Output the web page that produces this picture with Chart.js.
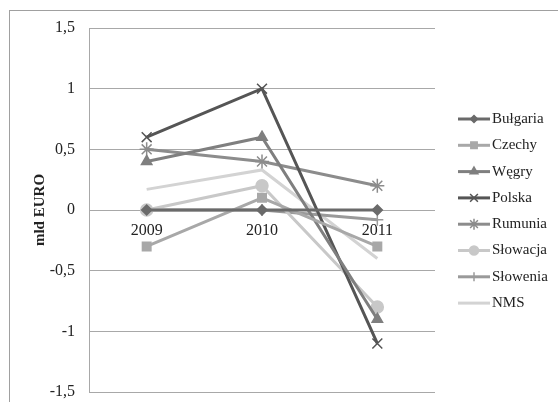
<!DOCTYPE html>
<html>
<head>
<meta charset="utf-8">
<script src="https://cdn.jsdelivr.net/npm/chart.js@4"></script>
<style>
  html, body { margin: 0; padding: 0; background: #fff; }
  #wrap { width: 558px; height: 402px; }
</style>
</head>
<body>
<div id="wrap"><canvas id="wykres" width="558" height="402"></canvas></div>
<script>
const lata = ['2009', '2010', '2011'];
const bulgaria = [0, 0, 0];
const czechy = [-0.3, 0.1, -0.3];
const wegry = [0.4, 0.6, -0.9];
const polska = [0.6, 1.0, -1.1];
const rumunia = [0.5, 0.4, 0.2];
const slowacja = [0, 0.2, -0.8];
const slowenia = [0, 0, -0.08];
const nms = [0.17, 0.33, -0.4];

const czcionka = '"Liberation Serif", "Times New Roman", serif';

const serie = [
  { label: 'Bułgaria', data: bulgaria, kolor: '#6a6a6a', punkt: 'rectRot', r: 5 },
  { label: 'Czechy', data: czechy, kolor: '#a8a8a8', punkt: 'rect', r: 6 },
  { label: 'Węgry', data: wegry, kolor: '#7f7f7f', punkt: 'triangle', r: 6 },
  { label: 'Polska', data: polska, kolor: '#555555', punkt: 'crossRot', r: 7 },
  { label: 'Rumunia', data: rumunia, kolor: '#8c8c8c', punkt: 'star', r: 7 },
  { label: 'Słowacja', data: slowacja, kolor: '#c8c8c8', punkt: 'circle', r: 6 },
  { label: 'Słowenia', data: slowenia, kolor: '#9a9a9a', punkt: 'cross', r: 6 },
  { label: 'NMS', data: nms, kolor: '#d3d3d3', punkt: false, r: 0 }
];

const datasets = serie.map(s => ({
  label: s.label,
  data: s.data,
  borderColor: s.kolor,
  backgroundColor: s.kolor,
  borderWidth: 3,
  pointStyle: s.punkt,
  pointRadius: s.r,
  pointBorderWidth: 1.5,
  pointBorderColor: s.kolor,
  pointBackgroundColor: s.kolor,
  tension: 0
}));

// ramka dookoła i legenda z linią + znacznikiem (jak w Excelu)
const ramkaLegenda = {
  id: 'ramkaLegenda',
  beforeDraw(chart) {
    const ctx = chart.ctx;
    ctx.save();
    ctx.fillStyle = '#fff';
    ctx.fillRect(0, 0, chart.width, chart.height);
    ctx.strokeStyle = '#a0a0a0';
    ctx.lineWidth = 1;
    ctx.strokeRect(9.5, 10.5, 560, 420);
    ctx.restore();
  },
  afterDraw(chart) {
    const ctx = chart.ctx;
    ctx.save();
    ctx.font = '15px ' + czcionka;
    ctx.textBaseline = 'middle';
    chart.data.datasets.forEach((ds, i) => {
      const y = 119 + i * 26.3;
      ctx.strokeStyle = ds.borderColor;
      ctx.lineWidth = 3;
      ctx.beginPath();
      ctx.moveTo(458, y);
      ctx.lineTo(490, y);
      ctx.stroke();
      if (ds.pointStyle) {
        ctx.fillStyle = ds.borderColor;
        ctx.strokeStyle = ds.borderColor;
        ctx.lineWidth = 1.5;
        Chart.helpers.drawPoint(ctx, { pointStyle: ds.pointStyle, radius: ds.pointRadius - 1.5, borderWidth: 1.5 }, 474, y);
      }
      ctx.fillStyle = '#222';
      ctx.fillText(ds.label, 492, y);
    });
    ctx.restore();
  }
};

new Chart(document.getElementById('wykres'), {
  type: 'line',
  data: { labels: lata, datasets: datasets },
  plugins: [ramkaLegenda],
  options: {
    responsive: false,
    animation: false,
    layout: { padding: { left: 9, top: 28, right: 123, bottom: 10 } },
    plugins: {
      legend: { display: false },
      tooltip: { enabled: false }
    },
    scales: {
      x: {
        position: { y: 0 },
        offset: true,
        afterFit(scale) { scale.height = 0; },
        grid: { display: false, drawTicks: false },
        border: { display: false },
        ticks: { color: '#222', font: { family: czcionka, size: 16 }, padding: 11 }
      },
      y: {
        min: -1.5,
        max: 1.5,
        afterFit(scale) {
          scale.width = 80;
          scale.paddingTop = 0;
          scale.paddingBottom = 0;
        },
        ticks: {
          stepSize: 0.5,
          color: '#222',
          padding: 14,
          font: { family: czcionka, size: 16 },
          callback: v => String(v).replace('.', ',')
        },
        grid: { color: '#a8a8a8', lineWidth: 1, drawTicks: false },
        border: { color: '#a8a8a8' },
        title: {
          display: true,
          text: 'mld EURO',
          color: '#222',
          font: { family: czcionka, size: 15, weight: 'bold' },
          padding: { top: 22, bottom: 0 }
        }
      }
    }
  }
});
</script>
</body>
</html>
